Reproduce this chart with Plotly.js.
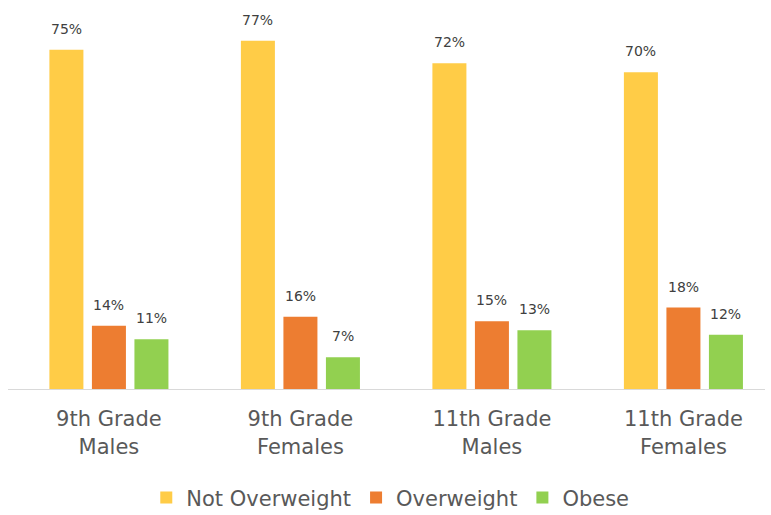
<!DOCTYPE html>
<html>
<head>
<meta charset="utf-8">
<script src="https://cdn.plot.ly/plotly-3.0.1.min.js"></script>
<style>
  html, body { margin: 0; padding: 0; background: #fff; }
  #chart { width: 771px; height: 515px; }
</style>
</head>
<body>
<div id="chart"></div>
<script>
// categories and series
const groups = ["9th Grade<br>Males", "9th Grade<br>Females", "11th Grade<br>Males", "11th Grade<br>Females"];
const seriesNames = ["Not Overweight", "Overweight", "Obese"];
const notOverweight = [75, 77, 72, 70];
const overweight = [14, 16, 15, 18];
const obese = [11, 7, 13, 12];

const colors = ["#FFCC47", "#ED7D31", "#92D050"];
const allValues = [notOverweight, overweight, obese];

const traces = allValues.map((vals, i) => ({
  x: groups,
  y: vals,
  type: "bar",
  name: seriesNames[i],
  marker: { color: colors[i] },
  hoverinfo: "x+y",
}));

// etiquetas de valor acima das barras
const slot = 42.5;
const annotations = [];
allValues.forEach((vals, i) => {
  vals.forEach((v, j) => {
    annotations.push({
      x: groups[j],
      y: v,
      text: v + "%",
      showarrow: false,
      xshift: (i - 1) * slot,
      yshift: 21,
      yanchor: "middle",
      font: { size: 14, color: "#404040" },
    });
  });
});

const layout = {
  width: 771,
  height: 515,
  paper_bgcolor: "#ffffff",
  plot_bgcolor: "#ffffff",
  font: { family: "'DejaVu Sans', sans-serif", color: "#595959" },
  barmode: "group",
  bargap: 0.334,
  bargroupgap: 0.2,
  showlegend: true,
  xaxis: {
    type: "category",
    range: [-0.527, 3.426],
    automargin: false,
    showline: true,
    linecolor: "#D9D9D9",
    linewidth: 1,
    ticks: "",
    tickfont: { size: 21, color: "#595959" },
    ticklabelstandoff: 11,
    fixedrange: true,
  },
  yaxis: {
    range: [0, 86],
    visible: false,
    automargin: false,
    showgrid: false,
    zeroline: false,
    fixedrange: true,
  },
  legend: {
    orientation: "h",
    x: 0.505,
    xanchor: "center",
    y: -0.28,
    yanchor: "middle",
    font: { size: 21, color: "#595959" },
    itemwidth: 30,
    traceorder: "normal",
  },
  annotations: annotations,
  margin: { t: 0, b: 126, l: 8, r: 6, autoexpand: false },
};

Plotly.newPlot("chart", traces, layout, { displayModeBar: false });
</script>
</body>
</html>
